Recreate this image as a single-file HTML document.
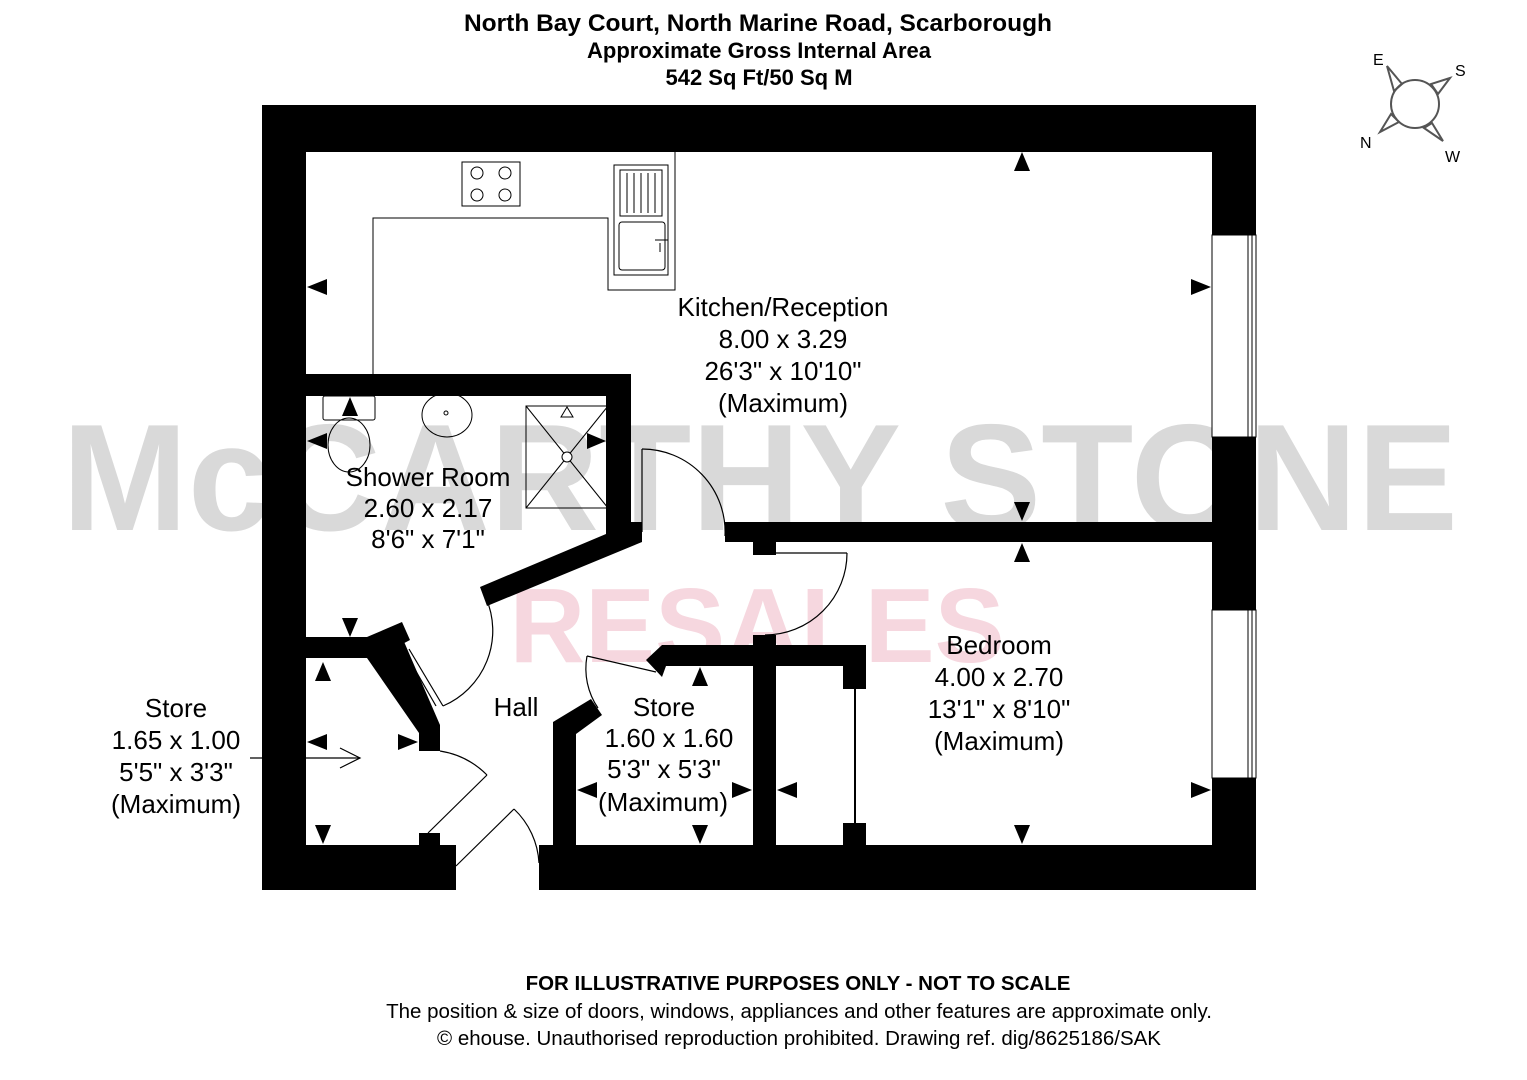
<!DOCTYPE html>
<html><head><meta charset="utf-8"><style>
html,body{margin:0;padding:0;background:#fff;}
svg{display:block;font-family:"Liberation Sans",Arial,sans-serif;}
</style></head><body>
<svg width="1527" height="1080" viewBox="0 0 1527 1080" xmlns="http://www.w3.org/2000/svg">
<rect width="1527" height="1080" fill="#fff"/>
<!-- titles -->
<g font-weight="bold" text-anchor="middle" fill="#000">
<text x="758" y="31" font-size="24.5">North Bay Court, North Marine Road, Scarborough</text>
<text x="759" y="58" font-size="22">Approximate Gross Internal Area</text>
<text x="759" y="85" font-size="22">542 Sq Ft/50 Sq M</text>
<text x="798" y="990" font-size="20.5">FOR ILLUSTRATIVE PURPOSES ONLY - NOT TO SCALE</text>
</g>
<g text-anchor="middle" fill="#000" font-size="20.5">
<text x="799" y="1018">The position &amp; size of doors, windows, appliances and other features are approximate only.</text>
<text x="799" y="1045">© ehouse. Unauthorised reproduction prohibited. Drawing ref. dig/8625186/SAK</text>
</g>
<!-- watermark -->
<text x="760" y="530" text-anchor="middle" font-size="152" font-weight="bold" fill="#d9d9d9" textLength="1396" lengthAdjust="spacingAndGlyphs">McCARTHY STONE</text>
<text x="757" y="662" text-anchor="middle" font-size="106" font-weight="bold" fill="#f6d7df" textLength="495" lengthAdjust="spacingAndGlyphs">RESALES</text>
<!-- outer walls -->
<g fill="#000">
<rect x="262" y="105" width="994" height="47"/>
<rect x="262" y="105" width="44" height="785"/>
<rect x="262" y="845" width="194" height="45"/>
<rect x="539" y="845" width="717" height="45"/>
<rect x="1212" y="105" width="44" height="130"/>
<rect x="1212" y="437" width="44" height="173"/>
<rect x="1212" y="778" width="44" height="112"/>
<!-- shower walls -->
<rect x="306" y="374" width="325" height="22"/>
<rect x="606" y="374" width="25" height="160"/>
<polygon points="606,522 642,522 642,542 487,606 480,587 606,534"/>
<!-- left store walls -->
<polygon points="306,637 367,637 402,622 410,640 376,658 306,658"/>
<polygon points="367,658 402,637 440,725 440,751 419,751 419,733"/>
<rect x="419" y="833" width="21" height="13"/>
<!-- central store -->
<polygon points="553,845 553,722 591,699 602,715 576,734 576,845"/>
<polygon points="646,660 662,645 866,645 866,689 843,689 843,666 666,666 662,677"/>
<rect x="753" y="635" width="23" height="210"/>
<rect x="843" y="823" width="23" height="22"/>
<!-- bedroom/kitchen wall -->
<rect x="725" y="522" width="490" height="20"/>
<rect x="753" y="540" width="23" height="15"/>
</g>
<!-- windows -->
<g fill="#fff" stroke="#000" stroke-width="1">
<rect x="1212" y="235" width="44" height="202"/>
<rect x="1212" y="610" width="44" height="168"/>
<line x1="1248" y1="235" x2="1248" y2="437"/><line x1="1252" y1="235" x2="1252" y2="437"/>
<line x1="1248" y1="610" x2="1248" y2="778"/><line x1="1252" y1="610" x2="1252" y2="778"/>
</g>
<!-- doors -->
<g fill="none" stroke="#000" stroke-width="1.2">
<line x1="642" y1="449" x2="642" y2="532"/>
<path d="M642,449 A83,83 0 0 1 725,536"/>
<line x1="765" y1="553" x2="847" y2="553"/>
<path d="M847,553 A82,82 0 0 1 765,635"/>
<line x1="398" y1="640" x2="436" y2="706"/><line x1="409" y1="649" x2="443" y2="706"/>
<path d="M443,706 A82,82 0 0 0 486,598"/>
<line x1="428" y1="833" x2="487" y2="775"/>
<path d="M487,775 A85,85 0 0 0 440,751"/>
<line x1="456" y1="866" x2="514" y2="809"/>
<path d="M514,809 A80,80 0 0 1 539,863"/>
<line x1="587" y1="656" x2="656" y2="672"/>
<path d="M587,656 A70,70 0 0 0 598,708"/>
<line x1="855" y1="689" x2="855" y2="823" stroke-width="2"/>
<line x1="250" y1="758" x2="360" y2="758"/>
<polyline points="340,748 360,758 340,768"/>
</g>
<!-- kitchen fittings -->
<g fill="none" stroke="#000" stroke-width="1">
<polyline points="373,374 373,218 608,218 608,290 675,290 675,152"/>
<rect x="462" y="162" width="58" height="44"/>
<circle cx="477" cy="173" r="6"/><circle cx="505" cy="173" r="6"/>
<circle cx="477" cy="195" r="6"/><circle cx="505" cy="195" r="6"/>
<rect x="614" y="165" width="54" height="110"/>
<rect x="620" y="170" width="42" height="46"/>
<line x1="627" y1="173" x2="627" y2="213"/><line x1="634" y1="173" x2="634" y2="213"/><line x1="641" y1="173" x2="641" y2="213"/><line x1="648" y1="173" x2="648" y2="213"/><line x1="655" y1="173" x2="655" y2="213"/>
<rect x="619" y="222" width="46" height="48" rx="3"/>
<line x1="655" y1="240" x2="668" y2="240"/><line x1="660" y1="243" x2="660" y2="252"/>
<!-- shower fittings -->
<rect x="323" y="396" width="52" height="24" rx="2"/>
<ellipse cx="349" cy="445" rx="21" ry="27"/>
<ellipse cx="447" cy="415" rx="25" ry="22"/>
<circle cx="446" cy="413" r="2"/>
<rect x="526" y="406" width="82" height="102"/>
<line x1="526" y1="406" x2="608" y2="508"/><line x1="608" y1="406" x2="526" y2="508"/>
<circle cx="567" cy="457" r="5" fill="#fff"/>
<polygon points="567,407 561,417 573,417"/>
</g>
<!-- dimension arrows -->
<g fill="#000">
<polygon points="1022,152 1014,171 1030,171"/>
<polygon points="1022,521 1014,502 1030,502"/>
<polygon points="1022,543 1014,562 1030,562"/>
<polygon points="1022,844 1014,825 1030,825"/>
<polygon points="307,287 327,279 327,295"/>
<polygon points="1211,287 1191,279 1191,295"/>
<polygon points="1211,790 1191,782 1191,798"/>
<polygon points="350,397 342,416 358,416"/>
<polygon points="307,441 327,433 327,449"/>
<polygon points="606,441 587,433 587,449"/>
<polygon points="350,637 342,618 358,618"/>
<polygon points="323,662 315,681 331,681"/>
<polygon points="307,742 327,734 327,750"/>
<polygon points="418,742 398,734 398,750"/>
<polygon points="323,844 315,825 331,825"/>
<polygon points="700,667 692,686 708,686"/>
<polygon points="700,844 692,825 708,825"/>
<polygon points="577,790 597,782 597,798"/>
<polygon points="752,790 732,782 732,798"/>
<polygon points="777,790 797,782 797,798"/>
</g>
<!-- room labels -->
<g text-anchor="middle" font-size="26" fill="#000">
<text x="783" y="316">Kitchen/Reception</text>
<text x="783" y="348">8.00 x 3.29</text>
<text x="783" y="380">26'3" x 10'10"</text>
<text x="783" y="412">(Maximum)</text>
<text x="428" y="486">Shower Room</text>
<text x="428" y="517">2.60 x 2.17</text>
<text x="428" y="548">8'6" x 7'1"</text>
<text x="516" y="716">Hall</text>
<text x="664" y="716">Store</text>
<text x="669" y="747">1.60 x 1.60</text>
<text x="664" y="778">5'3" x 5'3"</text>
<text x="663" y="811">(Maximum)</text>
<text x="176" y="717">Store</text>
<text x="176" y="749">1.65 x 1.00</text>
<text x="176" y="781">5'5" x 3'3"</text>
<text x="176" y="813">(Maximum)</text>
<text x="999" y="654">Bedroom</text>
<text x="999" y="686">4.00 x 2.70</text>
<text x="999" y="718">13'1" x 8'10"</text>
<text x="999" y="750">(Maximum)</text>
</g>
<!-- compass -->
<g fill="none" stroke="#555" stroke-width="2">
<circle cx="1415" cy="104" r="24"/>
<polygon points="1387,66 1402,84 1394,91"/>
<polygon points="1450,78 1431,84 1438,94"/>
<polygon points="1380,132 1391,114 1399,122"/>
<polygon points="1443,141 1432,123 1424,128"/>
</g>
<g font-size="16" fill="#000">
<text x="1373" y="65">E</text>
<text x="1455" y="76">S</text>
<text x="1360" y="148">N</text>
<text x="1445" y="162">W</text>
</g>
</svg>
</body></html>
